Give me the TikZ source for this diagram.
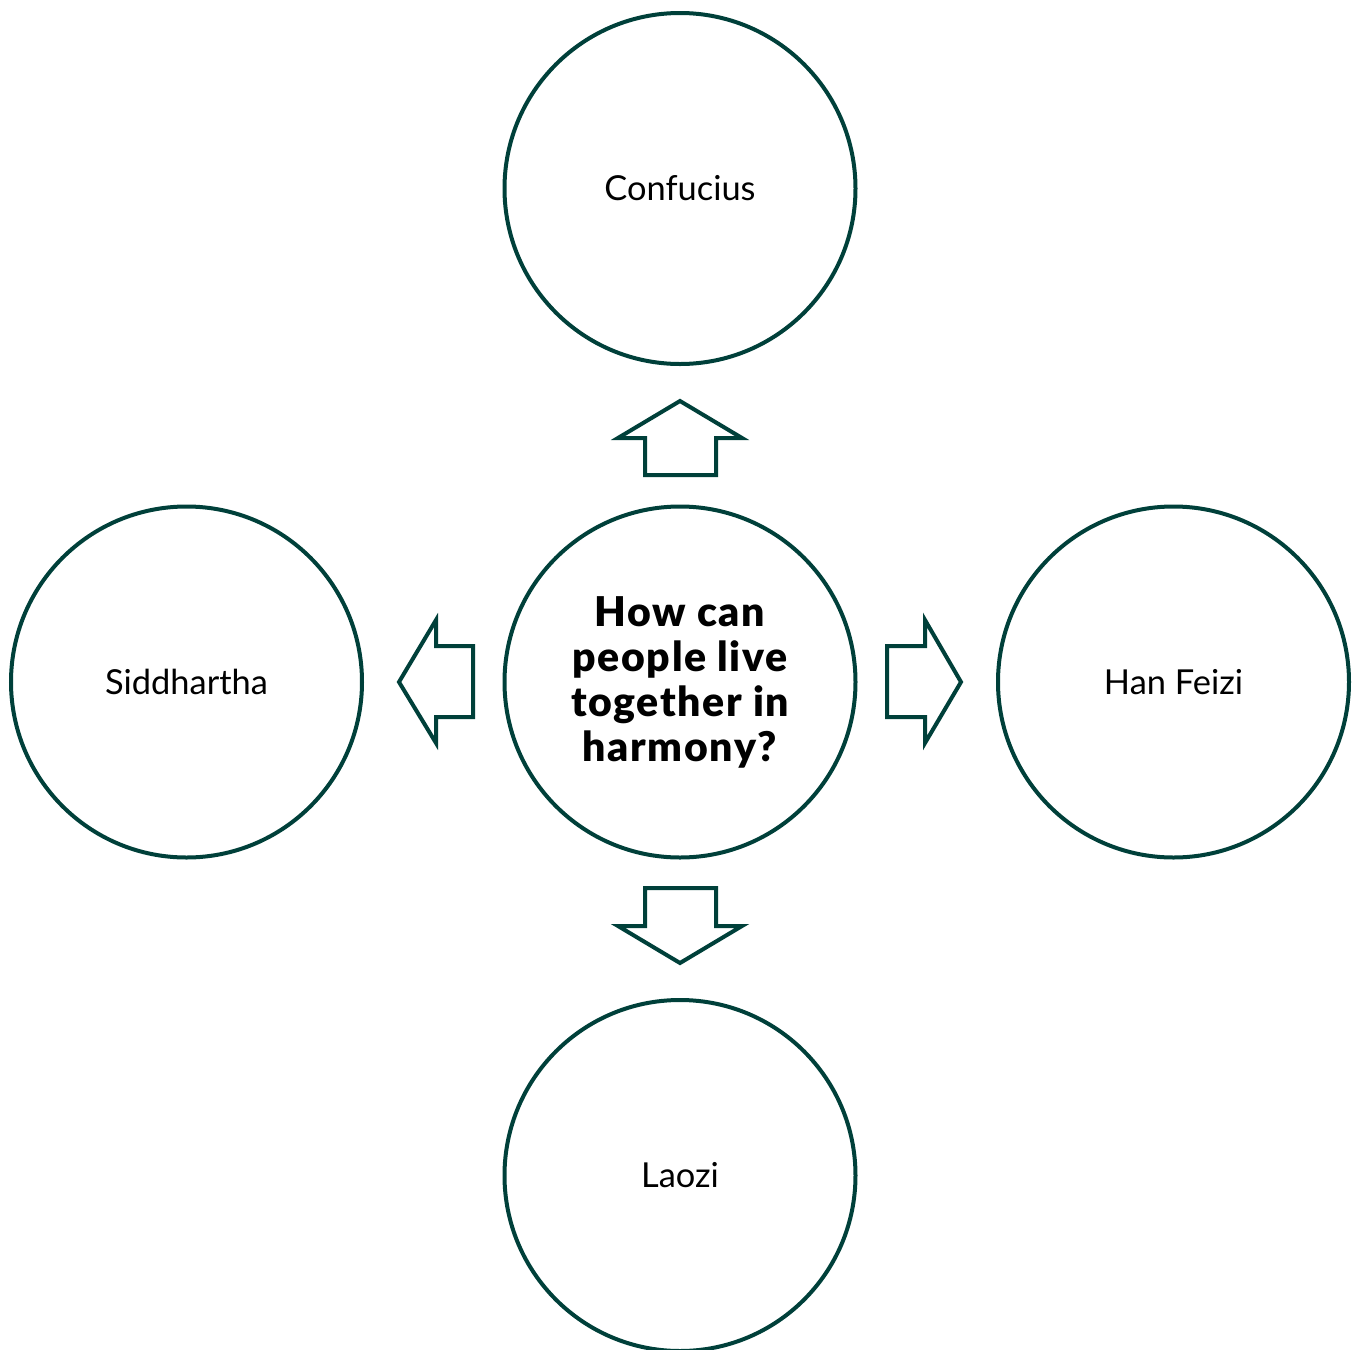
\documentclass[tikz,border=0pt]{standalone}
\usepackage{fontspec}
\setmainfont{Lato}
\newfontfamily\qfont[LetterSpace=4]{Lato Black}
\definecolor{teal}{RGB}{0,64,58}
\begin{document}
\begin{tikzpicture}[x=0.5pt,y=-0.5pt,
  circ/.style={circle,draw=teal,line width=2pt,minimum size=351*0.5pt,inner sep=0pt},
  lab/.style={font=\fontsize{17.2}{20}\selectfont,text=black},
  qlab/.style={font=\qfont\fontsize{20.5}{22.5}\selectfont,align=center,text=black},
  blk/.style={draw=teal,line width=2pt,line join=miter}]
\useasboundingbox (0,0) rectangle (1356,1350);
\node[circ] (center) at (680,682) {};
\node[qlab] at (center) {How can\\people live\\together in\\harmony?};
\node[circ] (top) at (680,188.5) {};
\node[lab] at (top) {Confucius};
\node[circ] (left) at (186.5,682) {};
\node[lab] at (left) {Siddhartha};
\node[circ] (right) at (1173.5,682) {};
\node[lab] at (right) {Han Feizi};
\node[circ] (bottom) at (680,1175.5) {};
\node[lab] at (bottom) {Laozi};
% block arrows
\draw[blk] (645,475) -- (645,438) -- (618,438) -- (680,401) -- (742,438) -- (716,438) -- (716,475) -- cycle;
\draw[blk] (645,888) -- (645,926) -- (618,926) -- (680,963) -- (742,926) -- (716,926) -- (716,888) -- cycle;
\draw[blk] (887,646) -- (925,646) -- (925,620) -- (961,682) -- (925,743) -- (925,717) -- (887,717) -- cycle;
\draw[blk] (473,646) -- (436,646) -- (436,620) -- (399,682) -- (436,743) -- (436,717) -- (473,717) -- cycle;
\end{tikzpicture}
\end{document}
